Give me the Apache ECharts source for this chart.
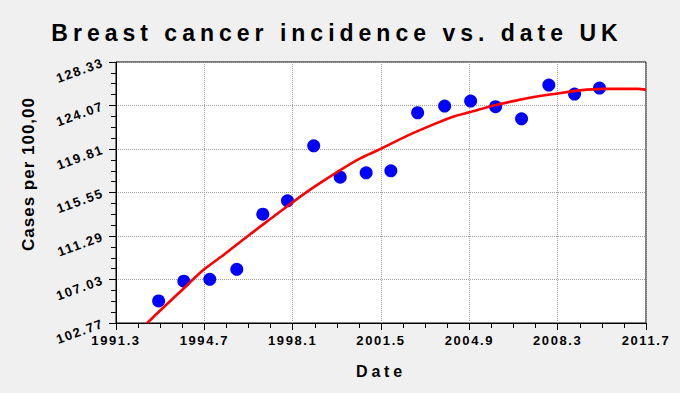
<!DOCTYPE html>
<html><head><meta charset="utf-8">
<script src="https://cdn.jsdelivr.net/npm/echarts@6/dist/echarts.min.js"></script>
<style>
html,body{margin:0;padding:0;background:#f0f0f0;}
#chart{width:680px;height:393px;}
#chart text[style*="23px"]{letter-spacing:5px;}
#chart text[style*="16px"]{letter-spacing:3.8px;}
#chart text[style*="17px"]{letter-spacing:1px;}
#chart text[style*="13px"]{letter-spacing:1.6px;}
</style></head><body><div id="chart"></div>
<script>
const titleText = 'Breast cancer incidence vs. date UK';
const xName = 'Date';
const yName = 'Cases per 100,00';

// observed points
const years = [1992.94,1993.91,1994.91,1995.95,1996.95,1997.90,1998.91,1999.93,2000.93,2001.88,2002.91,2003.95,2004.95,2005.91,2006.91,2007.96,2008.95,2009.91];
const cases = [104.93,106.86,107.05,108.03,113.43,114.73,120.12,117.05,117.48,117.67,123.36,124.01,124.50,123.95,122.77,126.07,125.19,125.78];

// fitted curve
const fitYears  = [1992.5,1993.0,1993.78,1994.68,1995.45,1996.35,1997.37,1998.1,1998.9,1999.93,2000.7,2001.47,2002.5,2003.5,2004.3,2004.9,2005.8,2006.6,2007.5,2008.3,2009.15,2010.0,2011.4,2011.7];
const fitValues = [102.77,104.0,105.85,108.0,109.45,111.25,113.2,114.6,116.05,117.75,118.9,119.8,121.1,122.2,123.0,123.4,124.05,124.5,124.95,125.25,125.55,125.7,125.7,125.6];

// tick labels
const xTickValues = [1991.3,1994.7,1998.1,2001.5,2004.9,2008.3,2011.7];
const yTickValues = [102.77,107.03,111.29,115.55,119.81,124.07,128.33];

const FONT = '"Liberation Sans", Arial, sans-serif';
const chart = echarts.init(document.getElementById('chart'), null, {renderer:'svg'});

const axisCommon = {
  type:'value',
  axisLine:{show:true,onZero:false,lineStyle:{color:'#000',width:1}},
  axisTick:{show:true,length:7,lineStyle:{color:'#000',width:1}},
  minorTick:{show:true,splitNumber:4,length:5,lineStyle:{color:'#000',width:1}},
  splitLine:{show:true,lineStyle:{color:'#a0a0a0',type:'dotted',width:1}},
};

chart.setOption({
  animation:false,
  backgroundColor:'#f0f0f0',
  title:{text:titleText,left:332,top:16,textAlign:'center',
    textStyle:{fontSize:23,fontWeight:'bold',color:'#000',fontFamily:FONT}},
  grid:{left:116,right:34,top:62,bottom:70,show:true,backgroundColor:'#fff',borderColor:'#000',borderWidth:1},
  xAxis:Object.assign({},axisCommon,{
    min:xTickValues[0],max:xTickValues[xTickValues.length-1],
    interval:xTickValues[1]-xTickValues[0],
    axisLabel:{margin:11,fontSize:13,fontWeight:'bold',color:'#000',fontFamily:FONT,
      showMinLabel:true,showMaxLabel:true,formatter:v=>v.toFixed(1)},
    name:xName,nameLocation:'middle',nameGap:40,
    nameTextStyle:{fontSize:16,fontWeight:'bold',color:'#000',fontFamily:FONT}
  }),
  yAxis:Object.assign({},axisCommon,{
    min:yTickValues[0],max:yTickValues[yTickValues.length-1],
    interval:yTickValues[1]-yTickValues[0],
    axisLabel:{margin:13,rotate:20,fontSize:13,fontWeight:'bold',color:'#000',fontFamily:FONT,
      showMinLabel:true,showMaxLabel:true,formatter:v=>v.toFixed(2)}
  }),
  graphic:[{type:'text',x:28,y:174,rotation:Math.PI/2,
    style:{text:yName,fontSize:17,fontWeight:'bold',fontFamily:FONT,fill:'#000',align:'center',verticalAlign:'middle'}}],
  series:[
    {type:'scatter',data:years.map((y,i)=>[y,cases[i]]),symbol:'circle',symbolSize:13,
      itemStyle:{color:'#0000ff',opacity:1},z:2},
    {type:'line',data:fitYears.map((y,i)=>[y,fitValues[i]]),showSymbol:false,smooth:0.25,
      lineStyle:{color:'#ff0000',width:2.6},z:3}
  ]
});
</script></body></html>
